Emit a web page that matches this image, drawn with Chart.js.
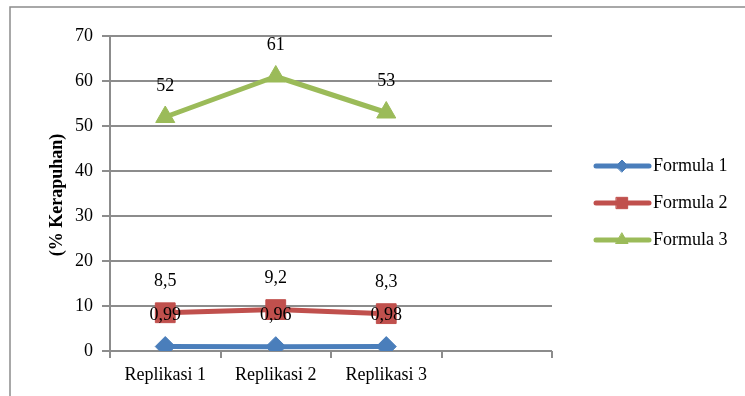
<!DOCTYPE html>
<html>
<head>
<meta charset="utf-8">
<script src="https://cdn.jsdelivr.net/npm/chart.js@4.4.1/dist/chart.umd.min.js"></script>
<style>
  html, body { margin: 0; padding: 0; background: #fff; }
  #wrap { position: relative; width: 745px; height: 396px; }
</style>
</head>
<body>
<div id="wrap"><canvas id="c" width="745" height="396"></canvas></div>
<script>
// Categories and series values
const categories = ['Replikasi 1', 'Replikasi 2', 'Replikasi 3', ''];
const formula1 = [0.99, 0.96, 0.98];
const formula2 = [8.5, 9.2, 8.3];
const formula3 = [52, 61, 53];
const seriesNames = ['Formula 1', 'Formula 2', 'Formula 3'];
const yTicks = [0, 10, 20, 30, 40, 50, 60, 70];
const yTitle = '(% Kerapuhan)';

const FONT = '"Liberation Serif", "Times New Roman", serif';
const GRID = '#8c8c8c';
const colors = ['#4a7ebb', '#c0504d', '#9bbb59'];
const shapes = ['rectRot', 'rect', 'triangle'];
const radii = [10, 14, 11];

const fmt = v => String(v).replace('.', ',');

const datasets = [formula1, formula2, formula3].map((d, i) => ({
  label: seriesNames[i],
  data: d,
  borderColor: colors[i],
  backgroundColor: colors[i],
  borderWidth: 5,
  borderCapStyle: 'round',
  borderJoinStyle: 'round',
  tension: 0,
  pointStyle: shapes[i],
  pointRadius: radii[i],
  pointBorderWidth: 1,
  pointBackgroundColor: colors[i],
  pointBorderColor: colors[i]
}));

// Outer frame, value labels, axis title and legend
const decorations = {
  id: 'decorations',
  beforeDraw(chart) {
    const ctx = chart.ctx;
    ctx.save();
    ctx.fillStyle = '#fff';
    ctx.fillRect(0, 0, chart.width, chart.height);
    ctx.strokeStyle = '#8c8c8c';
    ctx.lineWidth = 1.5;
    ctx.beginPath();
    ctx.moveTo(10, chart.height);
    ctx.lineTo(10, 7);
    ctx.lineTo(chart.width, 7);
    ctx.stroke();
    ctx.restore();
  },
  afterDatasetsDraw(chart) {
    const ctx = chart.ctx;
    ctx.save();
    ctx.font = '18px ' + FONT;
    ctx.fillStyle = '#000';
    ctx.textAlign = 'center';
    ctx.textBaseline = 'middle';
    chart.data.datasets.forEach((ds, i) => {
      chart.getDatasetMeta(i).data.forEach((pt, j) => {
        ctx.fillText(fmt(ds.data[j]), pt.x, pt.y - 31);
      });
    });

    // y-axis title
    ctx.save();
    ctx.translate(57, 195);
    ctx.rotate(-Math.PI / 2);
    ctx.font = 'bold 18px ' + FONT;
    ctx.fillText(yTitle, 0, 0);
    ctx.restore();

    // legend
    const rows = [166, 203, 240];
    chart.data.datasets.forEach((ds, i) => {
      const y = rows[i];
      ctx.strokeStyle = ds.borderColor;
      ctx.lineWidth = 5;
      ctx.lineCap = 'round';
      ctx.beginPath();
      ctx.moveTo(596, y);
      ctx.lineTo(649, y);
      ctx.stroke();
      ctx.fillStyle = ds.borderColor;
      ctx.strokeStyle = ds.borderColor;
      ctx.lineWidth = 1;
      Chart.helpers.drawPoint(ctx, { pointStyle: ds.pointStyle, radius: [6, 8, 7][i], rotation: 0, borderWidth: 1 }, 622, y);
      ctx.fillStyle = '#000';
      ctx.textAlign = 'left';
      ctx.font = '18px ' + FONT;
      ctx.fillText(ds.label, 653, y);
    });
    ctx.restore();
  }
};

new Chart(document.getElementById('c'), {
  type: 'line',
  data: { labels: categories, datasets },
  plugins: [decorations],
  options: {
    responsive: false,
    animation: false,
    devicePixelRatio: 1,
    layout: { padding: { left: 0, top: 36, right: 193, bottom: 0 } },
    plugins: { legend: { display: false }, tooltip: { enabled: false } },
    scales: {
      x: {
        offset: true,
        afterFit(s) { s.height = 45; },
        grid: {
          offset: true,
          drawOnChartArea: false,
          drawTicks: true,
          tickLength: 7,
          color: GRID,
          lineWidth: 2
        },
        border: { display: false },
        ticks: { font: { family: FONT, size: 18 }, color: '#000', padding: 6, maxRotation: 0 }
      },
      y: {
        min: 0,
        max: 70,
        afterFit(s) { s.width = 110; },
        afterBuildTicks(s) { s.ticks = yTicks.map(v => ({ value: v })); },
        grid: { color: GRID, lineWidth: 2, tickLength: 8 },
        border: { color: GRID, width: 2 },
        ticks: { font: { family: FONT, size: 18 }, color: '#000', padding: 9 }
      }
    }
  }
});
</script>
</body>
</html>
